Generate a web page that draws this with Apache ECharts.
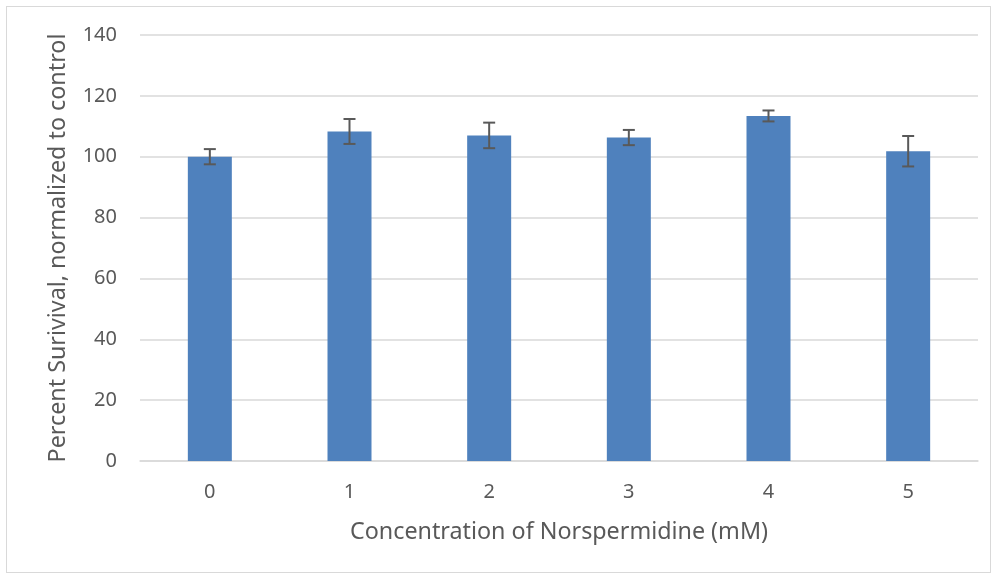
<!DOCTYPE html>
<html><head><meta charset="utf-8">
<script src="https://cdn.jsdelivr.net/npm/echarts@6/dist/echarts.min.js"></script>
<style>html,body{margin:0;padding:0;background:#fff}#c{width:993px;height:575px}
#frame{position:absolute;left:6px;top:6px;width:985px;height:567px;border:1px solid #d9d9d9;box-sizing:border-box;pointer-events:none}</style>
</head><body><div id="c"></div><div id="frame"></div>
<script>
var categories = ['0','1','2','3','4','5'];
var values = [100.0, 108.3, 107.0, 106.3, 113.4, 101.8];
var errors = [2.5, 4.1, 4.2, 2.5, 1.8, 5.0];
var yTicks = {min:0, max:140, interval:20};

var chart = echarts.init(document.getElementById('c'));
var font = '"Noto Sans", sans-serif';
chart.setOption({
  animation:false,
  grid:{left:140,right:15,top:35,bottom:114},
  xAxis:{type:'category',data:categories,
    axisLine:{lineStyle:{color:'#d9d9d9',width:1.5}},axisTick:{show:false},
    axisLabel:{color:'#595959',fontSize:20,fontFamily:font,margin:21},
    name:'Concentration of Norspermidine (mM)',nameLocation:'middle',nameGap:60,
    nameTextStyle:{color:'#595959',fontSize:23.3,fontFamily:font}},
  yAxis:{type:'value',min:yTicks.min,max:yTicks.max,interval:yTicks.interval,
    axisLine:{show:false},axisTick:{show:false},
    splitLine:{lineStyle:{color:'#d9d9d9',width:1.5}},
    axisLabel:{color:'#595959',fontSize:20,fontFamily:font,margin:23},
    name:'Percent Surivival, normalized to control',nameLocation:'middle',nameGap:70,
    nameTextStyle:{color:'#595959',fontSize:23.3,fontFamily:font}},
  series:[
    {type:'bar',data:values,barWidth:'31.5%',itemStyle:{color:'#4f81bd'}},
    {type:'custom',data:values.map(function(v,i){return [i,v-errors[i],v+errors[i]];}),
      z:10,
      renderItem:function(params,api){
        var lo=api.coord([api.value(0),api.value(1)]);
        var hi=api.coord([api.value(0),api.value(2)]);
        var w=6;
        var st={stroke:'#595959',lineWidth:2};
        return {type:'group',children:[
          {type:'line',shape:{x1:hi[0],y1:hi[1],x2:lo[0],y2:lo[1]},style:st},
          {type:'line',shape:{x1:hi[0]-w,y1:hi[1],x2:hi[0]+w,y2:hi[1]},style:st},
          {type:'line',shape:{x1:lo[0]-w,y1:lo[1],x2:lo[0]+w,y2:lo[1]},style:st}
        ]};
      }}
  ]
});
</script></body></html>
